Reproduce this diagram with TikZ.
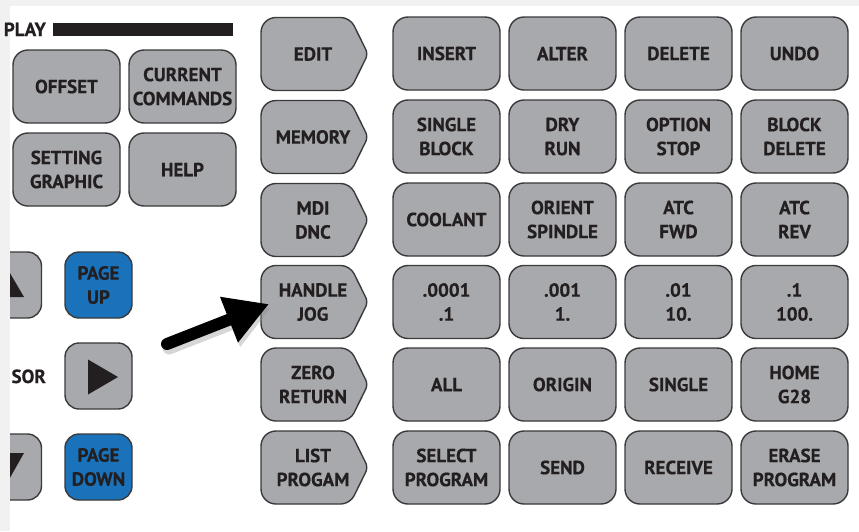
\documentclass[tikz,border=0pt]{standalone}
\usepackage{fontspec}
\setmainfont{PT Sans}[BoldFeatures={FakeBold=0.5}]
\usetikzlibrary{arrows.meta}
\definecolor{keygray}{HTML}{A7A9AC}
\definecolor{keyblue}{HTML}{1A72BB}
\definecolor{ink}{HTML}{231F20}
\definecolor{keyedge}{HTML}{3A3A3C}
\definecolor{framegray}{HTML}{F1F1F2}
\begin{document}
\begin{tikzpicture}[x=1pt,y=-1pt,
  keyfont/.style={font=\bfseries\fontsize{19}{24}\selectfont, text=ink},
  ckey/.style={draw=keyedge, line width=1.4pt, fill=keygray, rounded corners=15pt,
    minimum width=107pt, minimum height=73pt, inner sep=0pt, align=center, keyfont},
  skey/.style={ckey, minimum width=67pt, minimum height=66pt, rounded corners=14pt},
  bkey/.style={skey, fill=keyblue},
  modeshape/.style={draw=keyedge, line width=1.4pt, fill=keygray},
  modetext/.style={inner sep=0pt, align=center, keyfont},
  lbl/.style={inner sep=0pt, keyfont},
  glyph/.style={fill=ink}]
\useasboundingbox (0,0) rectangle (859,531);
\clip (0,0) rectangle (859,531);
\fill[white] (0,0) rectangle (859,531);

% frame strips
\fill[framegray] (0,0) rectangle (859,6);
\fill[framegray] (0,0) rectangle (10,531);

% display header
\node[lbl, anchor=base east] (disp) at (46,36) {PLAY};
\fill[ink] (53,23) rectangle (233,36);

% left keys
\node[ckey] (offset) at (66.5,86.5) {OFFSET};
\node[ckey] (curcmd) at (182.5,86.5) {CURRENT\\COMMANDS};
\node[ckey] (setgr) at (66.5,169.5) {SETTING\\GRAPHIC};
\node[ckey] (help) at (182.5,169.5) {HELP};

% cursor keys
\begin{scope}
\clip (10,0) rectangle (859,531);
\node[skey] (up) at (8,285) {};
\fill[glyph] (7,268) -- (24,297) -- (-10,297) -- cycle;
\node[skey] (down) at (8,467) {};
\fill[glyph] (-10,453) -- (24,453) -- (7,483) -- cycle;
\end{scope}
\node[bkey] (pgup) at (98.5,285) {PAGE\\UP};
\node[lbl, anchor=base east] (cursor) at (46,383) {SOR};
\node[skey] (right) at (98.5,376) {};
\fill[glyph] (88,359.5) -- (118,377) -- (88,394.5) -- cycle;
\node[bkey] (pgdn) at (98.5,467) {PAGE\\DOWN};

% mode keys
\foreach \c/\nm/\txt in {54/edit/EDIT, 137/memory/MEMORY, 220/mdi/MDI\\DNC,
    302/hjog/HANDLE\\JOG, 384.5/zret/ZERO\\RETURN, 467.5/lprog/LIST\\PROGAM}{
  \draw[modeshape] (261,\c) [rounded corners=15pt] -- (261,\c-36.5) [rounded corners=9pt]
     -- (350,\c-36.5) [rounded corners=5pt] -- (368,\c) [rounded corners=9pt]
     -- (350,\c+36.5) [rounded corners=15pt] -- (261,\c+36.5) -- cycle;
  \node[modetext] (\nm) at (313,\c) {\txt};
}

% function keys
\foreach \r/\y in {1/53.5, 2/136.5, 3/219.5, 4/302, 5/384.5, 6/467.5}{
  \foreach \k/\x in {1/446.5, 2/562.5, 3/678.5, 4/794.5}{
    \coordinate (p\r\k) at (\x,\y);
  }
}
\node[ckey] (k11) at (p11) {INSERT};
\node[ckey] (k12) at (p12) {ALTER};
\node[ckey] (k13) at (p13) {DELETE};
\node[ckey] (k14) at (p14) {UNDO};
\node[ckey] (k21) at (p21) {SINGLE\\BLOCK};
\node[ckey] (k22) at (p22) {DRY\\RUN};
\node[ckey] (k23) at (p23) {OPTION\\STOP};
\node[ckey] (k24) at (p24) {BLOCK\\DELETE};
\node[ckey] (k31) at (p31) {COOLANT};
\node[ckey] (k32) at (p32) {ORIENT\\SPINDLE};
\node[ckey] (k33) at (p33) {ATC\\FWD};
\node[ckey] (k34) at (p34) {ATC\\REV};
\node[ckey] (k41) at (p41) {.0001\\.1};
\node[ckey] (k42) at (p42) {.001\\1.};
\node[ckey] (k43) at (p43) {.01\\10.};
\node[ckey] (k44) at (p44) {.1\\100.};
\node[ckey] (k51) at (p51) {ALL};
\node[ckey] (k52) at (p52) {ORIGIN};
\node[ckey] (k53) at (p53) {SINGLE};
\node[ckey] (k54) at (p54) {HOME\\G28};
\node[ckey] (k61) at (p61) {SELECT\\PROGRAM};
\node[ckey] (k62) at (p62) {SEND};
\node[ckey] (k63) at (p63) {RECEIVE};
\node[ckey] (k64) at (p64) {ERASE\\PROGRAM};

% pointer arrow
\coordinate (atail) at (167,344);
\coordinate (atip) at (269,304);
\draw[black!45, opacity=0.35, line width=13pt, line cap=round,
  -{Triangle[length=43pt,width=47pt]}] ([shift={(2,4)}]atail) -- ([shift={(2,4)}]atip);
\draw[black, line width=12pt, line cap=round,
  -{Triangle[length=43pt,width=46pt]}] (atail) -- (atip);
\end{tikzpicture}
\end{document}
